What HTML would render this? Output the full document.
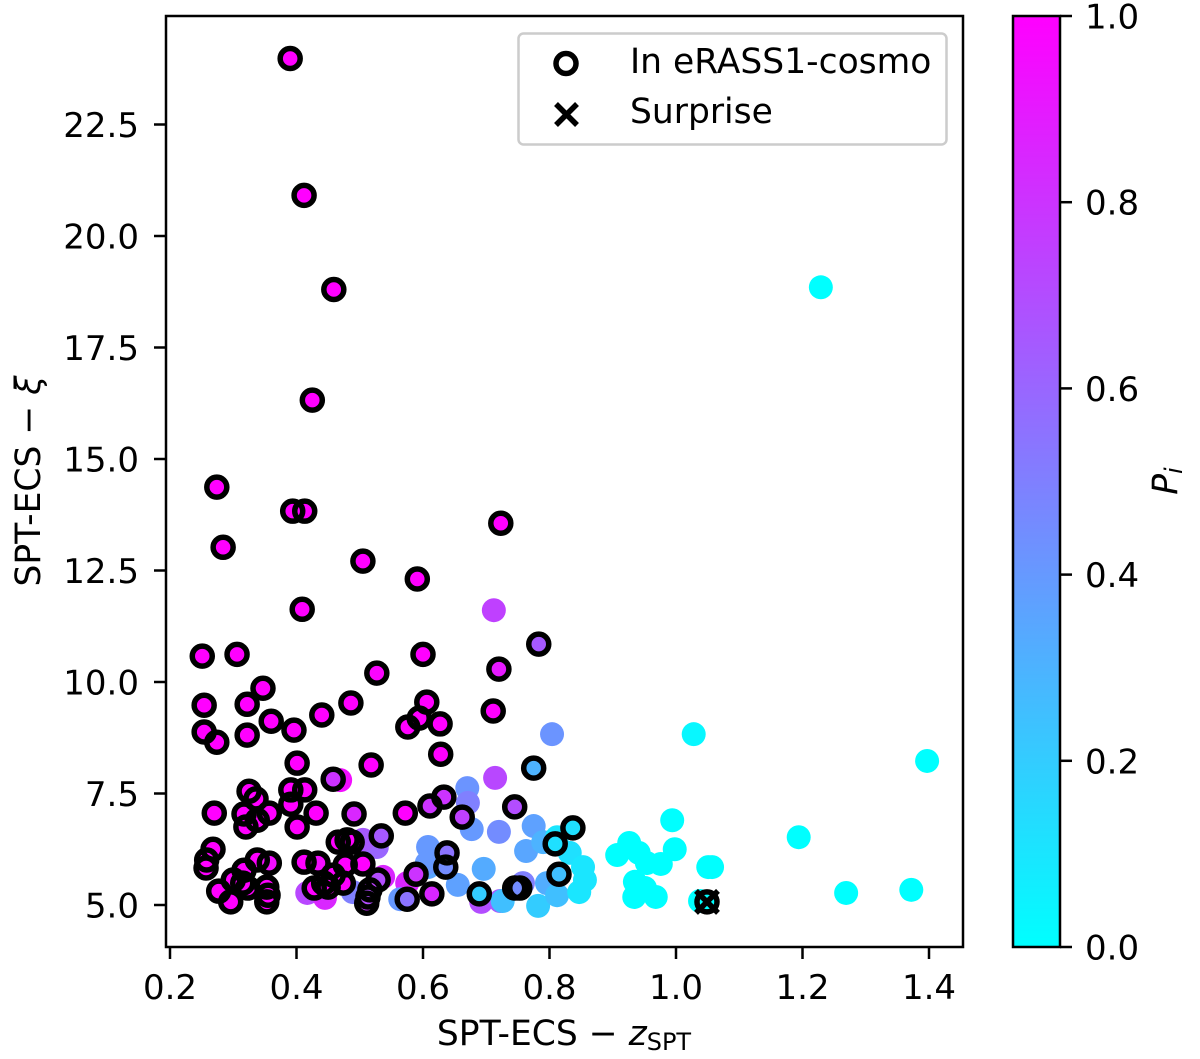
<!DOCTYPE html>
<html>
<head>
<meta charset="utf-8">
<title>SPT-ECS scatter</title>
<style>
html,body{margin:0;padding:0;background:#fff;}
svg{display:block;font-family:"DejaVu Sans","Liberation Sans",sans-serif;}
text{fill:#000;}
</style>
</head>
<body>
<svg id="chart" xmlns="http://www.w3.org/2000/svg" width="1200" height="1059" viewBox="0 0 1200 1059">
  <defs>
    <linearGradient id="cool-gradient" x1="0" y1="1" x2="0" y2="0">
      <stop offset="0" stop-color="#00ffff"/>
      <stop offset="1" stop-color="#ff00ff"/>
    </linearGradient>
  </defs>
  <rect width="1200" height="1059" fill="#fff"/>
  <g id="plain-points"></g>
  <g id="cosmo-fills"></g>
  <g id="cosmo-rings"></g>
  <g id="surprise-marks"></g>
  <rect x="166" y="16" width="797" height="931" fill="none" stroke="#000" stroke-width="2.5"/>
  <g id="axis-ticks"></g>

  <text x="564" y="1045" text-anchor="middle" font-size="34.5">SPT-ECS − <tspan font-style="italic">z</tspan><tspan font-size="24" dy="5">SPT</tspan></text>
  <text transform="translate(40,481) rotate(-90)" text-anchor="middle" font-size="34.5">SPT-ECS − <tspan font-style="italic">ξ</tspan></text>

  <g>
    <rect x="518.5" y="33.5" width="428" height="111" rx="5" ry="5" fill="#fff" fill-opacity="0.8" stroke="#cccccc" stroke-width="2.5"/>
    <circle cx="566" cy="63.5" r="10" fill="none" stroke="#000" stroke-width="5.5"/>
    <path d="M556 104 L577 125 M577 104 L556 125" stroke="#000" stroke-width="5.5" fill="none"/>
    <text x="630" y="73" font-size="34.5">In eRASS1-cosmo</text>
    <text x="630" y="123" font-size="34.5">Surprise</text>
  </g>

  <g>
    <rect x="1013" y="16" width="47" height="931" fill="url(#cool-gradient)" stroke="#000" stroke-width="2.5"/>
    <text transform="translate(1177,481) rotate(-90)" text-anchor="middle" font-size="34.5" font-style="italic">P<tspan font-size="24" dy="5">i</tspan></text>
  </g>
</svg>
<script>
const xTickValues = [0.2, 0.4, 0.6, 0.8, 1.0, 1.2, 1.4];
const xTickLabels = ["0.2", "0.4", "0.6", "0.8", "1.0", "1.2", "1.4"];
const yTickValues = [5, 7.5, 10, 12.5, 15, 17.5, 20, 22.5];
const yTickLabels = ["5.0", "7.5", "10.0", "12.5", "15.0", "17.5", "20.0", "22.5"];
const cbarTickValues = [0, 0.2, 0.4, 0.6, 0.8, 1.0];
const cbarTickLabels = ["0.0", "0.2", "0.4", "0.6", "0.8", "1.0"];

const plainZ = [1.229,1.397,1.372,1.269,1.194,1.028,0.994,0.998,0.907,0.926,0.941,0.954,0.976,0.935,0.951,0.934,0.968,1.051,1.057,1.038,
  0.804,0.712,0.714,0.670,0.671,0.677,0.720,0.775,0.763,0.790,0.608,0.696,0.655,0.692,0.722,0.726,0.758,0.796,0.782,0.812,
  0.832,0.853,0.856,0.847,0.812,0.608,0.417,0.445,0.489,0.527,0.505,0.469,0.537,0.575,0.564,0.606];
const plainXi = [18.85,8.23,5.34,5.27,6.52,8.83,6.90,6.25,6.12,6.39,6.17,5.94,5.92,5.52,5.38,5.18,5.18,5.85,5.85,5.09,
  8.83,11.61,7.85,7.62,7.29,6.70,6.64,6.77,6.21,6.41,6.30,5.81,5.45,5.07,5.09,5.09,5.49,5.49,4.98,5.22,
  6.17,5.85,5.56,5.29,6.52,5.85,5.27,5.16,5.29,6.30,6.46,7.80,5.63,5.49,5.13,5.94];
const plainP = [0,0,0,0,0,0.03,0,0,0,0,0,0,0,0,0,0,0,0,0,0,
  0.42,0.75,0.72,0.42,0.5,0.4,0.45,0.37,0.35,0.3,0.4,0.33,0.37,0.7,0.65,0.25,0.5,0.32,0.2,0.25,
  0.12,0.1,0.1,0.1,0.1,0.35,0.72,0.85,0.5,0.6,0.65,0.95,0.85,0.85,0.4,0.4];

const cosmoZ = [0.390,0.412,0.459,0.425,0.274,0.394,0.413,0.284,0.723,0.505,0.591,0.409,0.783,0.251,0.306,0.600,0.527,0.720,0.347,0.606,
  0.254,0.322,0.486,0.440,0.711,0.594,0.576,0.627,0.360,0.396,0.254,0.322,0.274,0.628,0.401,0.518,0.775,0.458,0.325,0.336,
  0.391,0.413,0.391,0.270,0.317,0.357,0.338,0.320,0.431,0.491,0.401,0.572,0.611,0.633,0.268,0.258,0.257,0.338,0.357,0.317,
  0.300,0.277,0.296,0.323,0.315,0.353,0.355,0.353,0.412,0.434,0.428,0.443,0.458,0.450,0.466,0.480,0.488,0.534,0.474,0.505,
  0.477,0.529,0.516,0.511,0.513,0.589,0.575,0.614,0.745,0.662,0.638,0.636,0.689,0.745,0.753,0.815,0.809,0.837,1.049];
const cosmoXi = [23.98,20.91,18.80,16.32,14.37,13.83,13.83,13.02,13.56,12.71,12.31,11.63,10.85,10.58,10.62,10.62,10.20,10.29,9.86,9.55,
  9.48,9.50,9.53,9.26,9.35,9.19,8.99,9.06,9.12,8.92,8.88,8.81,8.65,8.38,8.18,8.14,8.07,7.82,7.55,7.38,
  7.58,7.58,7.26,7.06,7.04,7.06,6.90,6.75,7.06,7.04,6.75,7.06,7.22,7.42,6.25,6.01,5.83,6.01,5.94,5.78,
  5.56,5.31,5.07,5.38,5.49,5.40,5.22,5.07,5.96,5.94,5.38,5.49,5.67,5.40,6.41,6.46,6.41,6.55,5.49,5.92,
  5.90,5.56,5.34,5.04,5.18,5.69,5.13,5.25,7.20,6.97,6.17,5.85,5.25,5.38,5.38,5.69,6.37,6.73,5.07];
const cosmoP = [1,1,1,1,1,1,1,1,1,1,1,1,0.65,1,1,1,0.98,0.9,1,1,
  1,1,1,1,1,1,1,1,1,1,1,1,1,1,1,1,0.3,0.8,1,1,
  1,1,1,1,1,1,1,1,1,0.85,1,1,0.8,0.8,1,1,1,1,0.95,1,
  1,1,1,1,1,1,1,1,1,0.95,1,1,1,1,1,1,1,0.65,1,1,
  1,0.7,0.75,0.8,0.7,0.8,0.55,0.85,0.7,0.75,0.55,0.45,0.2,0.5,0.45,0.25,0.12,0.12,0];

const surpriseZ = [1.049];
const surpriseXi = [5.07];

const svgNS = "http://www.w3.org/2000/svg";
function xScale(v) { return 170 + (v - 0.2) * 632.5; }
function yScale(v) { return 905 - (v - 5) * 44.6; }
function cbarScale(v) { return 947 - v * 931; }
function coolColor(t) {
  const r = Math.round(255 * t);
  const g = Math.round(255 * (1 - t));
  return "rgb(" + r + "," + g + ",255)";
}
function make(tag, parent) {
  const el = document.createElementNS(svgNS, tag);
  parent.appendChild(el);
  return el;
}

const plainGroup = document.getElementById("plain-points");
const fillGroup = document.getElementById("cosmo-fills");
const ringGroup = document.getElementById("cosmo-rings");
const surpriseGroup = document.getElementById("surprise-marks");
const tickGroup = document.getElementById("axis-ticks");

plainZ.forEach(function (z, i) {
  const c = make("circle", plainGroup);
  
  
  c.setAttribute("cx", xScale(z));
  c.setAttribute("cy", yScale(plainXi[i]));
  c.setAttribute("r", 12);
  c.setAttribute("fill", coolColor(plainP[i]));
});

cosmoZ.forEach(function (z, i) {
  const c = make("circle", fillGroup);
  
  
  c.setAttribute("cx", xScale(z));
  c.setAttribute("cy", yScale(cosmoXi[i]));
  c.setAttribute("r", 12);
  c.setAttribute("fill", coolColor(cosmoP[i]));
});

cosmoZ.forEach(function (z, i) {
  const r = make("circle", ringGroup);
  
  
  r.setAttribute("cx", xScale(z));
  r.setAttribute("cy", yScale(cosmoXi[i]));
  r.setAttribute("r", 10);
  r.setAttribute("fill", "none");
  r.setAttribute("stroke", "#000");
  r.setAttribute("stroke-width", 5.5);
});

surpriseZ.forEach(function (z, i) {
  const px = xScale(z);
  const py = yScale(surpriseXi[i]);
  const m = make("path", surpriseGroup);
  
  
  m.setAttribute("d", "M" + (px - 11) + " " + (py - 11) + " L" + (px + 11) + " " + (py + 11) + " M" + (px + 11) + " " + (py - 11) + " L" + (px - 11) + " " + (py + 11));
  m.setAttribute("stroke", "#000");
  m.setAttribute("stroke-width", 5.5);
  m.setAttribute("fill", "none");
});

function tickLine(x1, y1, x2, y2) {
  const l = make("line", tickGroup);
  
  
  l.setAttribute("x1", x1);
  l.setAttribute("y1", y1);
  l.setAttribute("x2", x2);
  l.setAttribute("y2", y2);
  l.setAttribute("stroke", "#000");
  l.setAttribute("stroke-width", 2.5);
}
function tickText(x, y, anchor, label) {
  const t = make("text", tickGroup);
  
  
  t.setAttribute("x", x);
  t.setAttribute("y", y);
  t.setAttribute("text-anchor", anchor);
  t.setAttribute("font-size", 34);
  t.textContent = label;
}

xTickValues.forEach(function (v, i) {
  const px = xScale(v);
  tickLine(px, 947, px, 959);
  tickText(px, 999, "middle", xTickLabels[i]);
});
yTickValues.forEach(function (v, i) {
  const py = yScale(v);
  tickLine(154, py, 166, py);
  tickText(139, py + 12.5, "end", yTickLabels[i]);
});
cbarTickValues.forEach(function (v, i) {
  const py = cbarScale(v);
  tickLine(1060, py, 1072, py);
  tickText(1085, py + 12.5, "start", cbarTickLabels[i]);
});
</script>
</body>
</html>
